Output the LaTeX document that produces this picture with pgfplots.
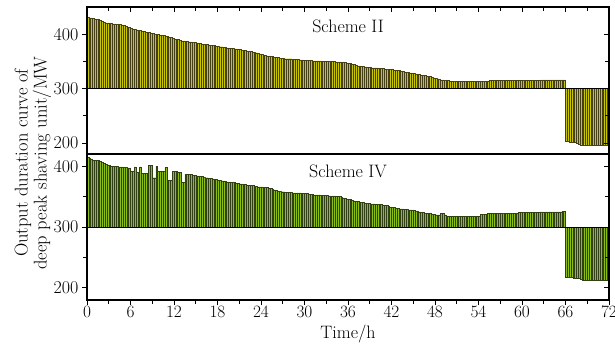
\documentclass[border=0pt]{standalone}
\usepackage{pgfplots}
\usepackage{pgfplotstable}
\pgfplotsset{compat=1.18}
\definecolor{ftop}{RGB}{200,196,10}
\definecolor{fbot}{RGB}{140,190,25}
\definecolor{etop}{RGB}{70,64,22}
\definecolor{ebot}{RGB}{50,64,22}

% one row per hour, four quarter-hour values
\pgfplotstableread{
qa qb qc qd
431 430 430 429
428 427 427 426
424 422 421 421
420 420 419 419
418 418 418 417
416 415 413 412
411 410 409 408
407 407 406 405
404 403 403 402
401 400 400 400
399 398 398 397
396 395 394 393
391 390 390 389
388 388 387 387
386 386 385 385
384 383 383 382
382 381 381 380
380 379 379 378
378 377 377 376
376 375 375 374
374 373 373 372
372 371 371 370
369 368 368 367
367 366 365 364
363 362 361 360
360 359 359 358
357 357 356 356
356 355 355 355
355 354 354 354
354 353 353 353
352 352 352 352
351 351 351 351
351 350 350 350
350 350 350 350
350 349 349 349
348 348 348 347
347 346 345 344
343 342 342 341
341 340 340 339
339 338 338 338
338 337 337 337
336 336 336 335
335 334 334 333
333 332 332 331
330 330 329 329
328 327 327 326
325 325 324 323
323 322 321 320
319 318 317 316
316 315 315 315
314 314 314 314
314 314 313 313
313 313 313 313
313 313 314 314
314 314 314 314
314 314 315 315
315 315 315 315
315 315 315 315
315 315 315 315
315 315 315 315
315 315 315 315
315 315 315 315
315 315 316 316
316 316 316 316
316 316 316 316
316 316 316 316
203 203 202 202
202 201 199 198
197 197 197 196
196 196 196 196
196 196 196 196
196 196 196 196
}\schemeII

\pgfplotstableread{
qa qb qc qd
414 413 412 410
410 409 409 408
406 405 403 402
401 400 400 400
400 399 399 399
398 398 397 397
392 392 399 390
390 399 388 388
388 388 401 401
381 381 400 392
392 392 392 398
377 377 377 392
392 391 390 390
373 373 387 387
386 386 385 385
384 384 383 383
382 381 381 380
380 379 378 378
377 377 376 376
375 374 374 373
373 373 372 372
371 371 370 370
369 369 368 368
367 367 366 366
366 365 365 365
364 363 362 361
360 359 359 358
358 357 357 357
357 356 356 356
356 356 355 355
355 355 354 354
354 353 353 353
353 352 352 352
352 351 351 351
351 350 350 350
349 348 347 346
346 345 344 343
342 342 341 341
340 339 339 339
338 338 338 337
337 337 337 336
336 335 334 333
332 332 331 331
330 330 330 329
329 328 328 328
327 326 326 325
324 324 323 323
322 322 321 321
320 320 320 323
322 320 317 317
317 317 317 317
317 317 317 317
317 317 317 317
317 317 317 317
317 321 321 321
321 322 322 322
322 322 322 322
322 323 323 323
323 323 323 323
323 323 324 324
324 324 324 324
324 324 324 324
324 324 325 325
325 325 325 325
325 325 325 325
325 325 326 326
218 218 218 217
216 216 215 215
214 213 213 213
213 213 213 213
213 213 213 213
213 213 213 213
}\schemeIV

\pgfplotsset{
  panel/.style={
    scale only axis, width=522pt,
    xmin=0, xmax=72,
    axis line style={line width=1.1pt},
    major tick style={line width=0.9pt, black},
    minor tick style={line width=0.9pt, black},
    major tick length=5pt, minor tick length=4pt,
    tick label style={font=\fontsize{18}{20}\selectfont},
    label style={font=\fontsize{18}{20}\selectfont},
    xtick={0,6,...,72}, minor xtick={3,9,...,69},
  },
  ov/.style={panel, tick align=inside, yticklabels={}, xticklabels={},
    ytick pos=right},
  qbar/.style={ybar, bar width=0.25, bar shift=0pt, line width=0.42pt},
}

\begin{document}
\begin{tikzpicture}
\path[use as bounding box] (0,0) rectangle (615pt,345pt);

% ---- Top panel: Scheme II ----
\begin{axis}[panel, at={(87pt,191pt)}, anchor=south west, height=147pt,
  ymin=-120, ymax=150,
  ytick={-100,0,100}, yticklabels={200,300,400}, minor ytick={-50,50},
  ytick pos=left, tick align=outside,
  xtick=\empty, minor xtick=\empty]
\addplot[qbar, fill=ftop, draw=etop] table[x expr=\coordindex+0.125, y expr=\thisrow{qa}-300] {\schemeII};
\addplot[qbar, fill=ftop, draw=etop] table[x expr=\coordindex+0.375, y expr=\thisrow{qb}-300] {\schemeII};
\addplot[qbar, fill=ftop, draw=etop] table[x expr=\coordindex+0.625, y expr=\thisrow{qc}-300] {\schemeII};
\addplot[qbar, fill=ftop, draw=etop] table[x expr=\coordindex+0.875, y expr=\thisrow{qd}-300] {\schemeII};
\addplot[black, line width=1pt] coordinates {(0,0) (72,0)};
\node[font=\fontsize{18}{20}\selectfont] at (axis cs:36,115) {Scheme II};
\end{axis}
\begin{axis}[ov, at={(87pt,191pt)}, anchor=south west, height=147pt,
  ymin=-120, ymax=150,
  ytick={-100,0,100}, minor ytick={-50,50}, xtick pos=right]
\end{axis}

% ---- Bottom panel: Scheme IV ----
\begin{axis}[panel, at={(87pt,45pt)}, anchor=south west, height=146pt,
  ymin=-120, ymax=120,
  ytick={-100,0,100}, yticklabels={200,300,400}, minor ytick={-50,50},
  ytick pos=left, xtick pos=left, tick align=outside,
  xlabel={Time/h}, xlabel style={yshift=0pt},
  xticklabel style={yshift=2pt}]
\addplot[qbar, fill=fbot, draw=ebot] table[x expr=\coordindex+0.125, y expr=\thisrow{qa}-300] {\schemeIV};
\addplot[qbar, fill=fbot, draw=ebot] table[x expr=\coordindex+0.375, y expr=\thisrow{qb}-300] {\schemeIV};
\addplot[qbar, fill=fbot, draw=ebot] table[x expr=\coordindex+0.625, y expr=\thisrow{qc}-300] {\schemeIV};
\addplot[qbar, fill=fbot, draw=ebot] table[x expr=\coordindex+0.875, y expr=\thisrow{qd}-300] {\schemeIV};
\addplot[black, line width=1pt] coordinates {(0,0) (72,0)};
\node[font=\fontsize{18}{20}\selectfont] at (axis cs:36,92) {Scheme IV};
\end{axis}
\begin{axis}[ov, at={(87pt,45pt)}, anchor=south west, height=146pt,
  ymin=-120, ymax=120,
  ytick={-100,0,100}, minor ytick={-50,50}, xtick=\empty, minor xtick=\empty]
\end{axis}

\node[rotate=90, align=center, font=\fontsize{18.5}{19}\selectfont] at (33pt,182pt)
  {Output duration curve of\\deep peak shaving unit/MW};
\end{tikzpicture}
\end{document}
